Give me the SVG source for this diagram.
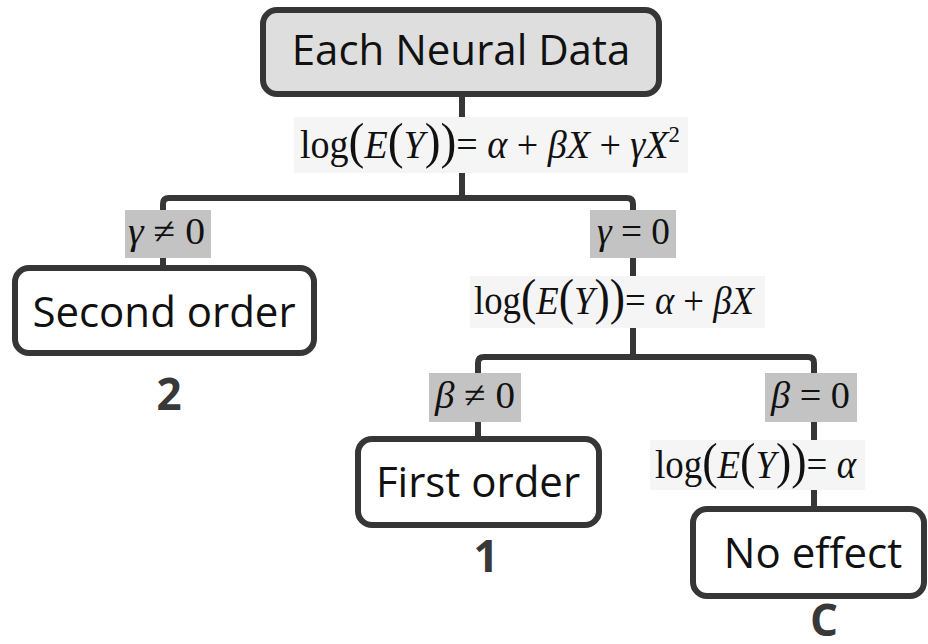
<svg xmlns="http://www.w3.org/2000/svg" width="928" height="644" viewBox="0 0 928 644">
<style>
.node rect{stroke:#363636;stroke-width:6}
.lbl{font-family:"Open Sans","Liberation Sans",sans-serif;font-size:42px;fill:#111;text-anchor:middle}
.num{font-family:"Open Sans","Liberation Sans",sans-serif;font-size:44px;font-weight:bold;fill:#383838;text-anchor:middle}
.eq{font-family:"Liberation Serif","Times New Roman",serif;font-size:40px;fill:#111}
.ceq{font-family:"Liberation Serif","Times New Roman",serif;font-size:38px;fill:#111}
.it{font-style:italic}
.big{font-size:50px}
.cond{fill:#c3c3c3}
.fbg{fill:#f5f5f5}
#connectors path{fill:none;stroke:#363636;stroke-width:6}
</style>
<rect width="928" height="644" fill="#fff"/>
<g id="connectors">
<path d="M462 95 V198"/>
<path d="M163 267 V204 Q163 198 169 198 H627 Q633 198 633 204 V357"/>
<path d="M478 439 V363 Q478 357 484 357 H808 Q814 357 814 363 V509"/>
</g>
<g id="eq1">
<rect class="fbg" x="294" y="117" width="394" height="56"/>
<text class="eq" x="300" y="158" textLength="380" lengthAdjust="spacingAndGlyphs">log<tspan class="big">(</tspan><tspan class="it">E</tspan><tspan class="big">(</tspan><tspan class="it">Y</tspan><tspan class="big">))</tspan>= <tspan class="it">α</tspan> + <tspan class="it">βX</tspan> + <tspan class="it">γX</tspan><tspan font-size="24" dy="-16">2</tspan></text>
</g>
<g id="cond-g-ne">
<rect class="cond" x="125" y="210" width="86" height="48"/>
<text class="ceq" x="128" y="244" textLength="77" lengthAdjust="spacingAndGlyphs"><tspan class="it">γ</tspan> ≠ 0</text>
</g>
<g id="cond-g-eq">
<rect class="cond" x="590" y="210" width="86" height="48"/>
<text class="ceq" x="597" y="244" textLength="73" lengthAdjust="spacingAndGlyphs"><tspan class="it">γ</tspan> = 0</text>
</g>
<g id="eq2">
<rect class="fbg" x="470" y="276" width="295" height="52"/>
<text class="eq" x="474" y="314" textLength="280" lengthAdjust="spacingAndGlyphs">log<tspan class="big">(</tspan><tspan class="it">E</tspan><tspan class="big">(</tspan><tspan class="it">Y</tspan><tspan class="big">))</tspan>= <tspan class="it">α</tspan> + <tspan class="it">βX</tspan></text>
</g>
<g id="cond-b-ne">
<rect class="cond" x="429" y="373" width="92" height="49"/>
<text class="ceq" x="435" y="408" textLength="80" lengthAdjust="spacingAndGlyphs"><tspan class="it">β</tspan> ≠ 0</text>
</g>
<g id="cond-b-eq">
<rect class="cond" x="765" y="373" width="92" height="49"/>
<text class="ceq" x="771" y="408" textLength="79" lengthAdjust="spacingAndGlyphs"><tspan class="it">β</tspan> = 0</text>
</g>
<g id="eq3">
<rect class="fbg" x="650" y="440" width="215" height="50"/>
<text class="eq" x="655" y="478" textLength="201" lengthAdjust="spacingAndGlyphs">log<tspan class="big">(</tspan><tspan class="it">E</tspan><tspan class="big">(</tspan><tspan class="it">Y</tspan><tspan class="big">))</tspan>= <tspan class="it">α</tspan></text>
</g>
<g id="node-root" class="node">
<rect x="263" y="10" width="396" height="84" rx="14" fill="#dedede"/>
<text class="lbl" x="461" y="65">Each Neural Data</text>
</g>
<g id="node-second" class="node">
<rect x="15" y="268" width="299" height="85" rx="14" fill="#fff"/>
<text class="lbl" x="164" y="327">Second order</text>
<text class="num" x="169" y="410">2</text>
</g>
<g id="node-first" class="node">
<rect x="358" y="439" width="241" height="86" rx="14" fill="#fff"/>
<text class="lbl" x="478" y="497">First order</text>
<text class="num" x="486" y="572">1</text>
</g>
<g id="node-none" class="node">
<rect x="693" y="509" width="231" height="87" rx="14" fill="#fff"/>
<text class="lbl" x="813" y="568">No effect</text>
<text class="num" x="824" y="636" font-size="42">C</text>
</g>
</svg>
